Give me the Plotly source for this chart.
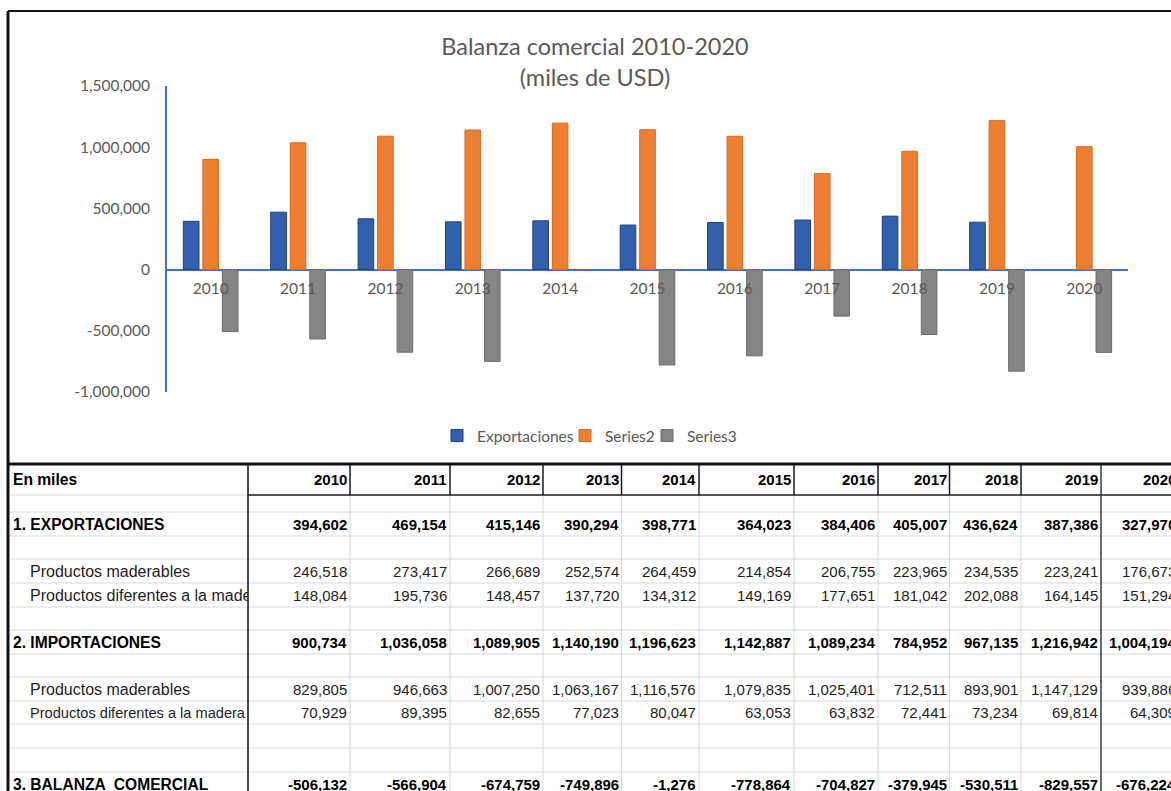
import plotly.graph_objects as go

W, H = 1171, 791

# ---------------- data ----------------
years = ["2010", "2011", "2012", "2013", "2014", "2015", "2016", "2017", "2018", "2019", "2020"]
exportaciones = [394602, 469154, 415146, 390294, 398771, 364023, 384406, 405007, 436624, 387386, 327970]
exp_maderables = [246518, 273417, 266689, 252574, 264459, 214854, 206755, 223965, 234535, 223241, 176673]
exp_otros = [148084, 195736, 148457, 137720, 134312, 149169, 177651, 181042, 202088, 164145, 151294]
importaciones = [900734, 1036058, 1089905, 1140190, 1196623, 1142887, 1089234, 784952, 967135, 1216942, 1004194]
imp_maderables = [829805, 946663, 1007250, 1063167, 1116576, 1079835, 1025401, 712511, 893901, 1147129, 939886]
imp_otros = [70929, 89395, 82655, 77023, 80047, 63053, 63832, 72441, 73234, 69814, 64309]
balanza = [-506132, -566904, -674759, -749896, -1276, -778864, -704827, -379945, -530511, -829557, -676224]
# in the chart the 2020 exports value is not plotted
exportaciones_chart = [394602, 469154, 415146, 390294, 398771, 364023, 384406, 405007, 436624, 387386, None]

series_names = ["Exportaciones", "Series2", "Series3"]
y_tickvals = [-1000000, -500000, 0, 500000, 1000000, 1500000]
y_ticktext = ["-1,000,000", "-500,000", "0", "500,000", "1,000,000", "1,500,000"]

title_lines = ["Balanza comercial 2010-2020", "(miles de USD)"]
table_corner = "En miles"
row_labels = ["1. EXPORTACIONES", "Productos maderables", "Productos diferentes a la madera",
              "2. IMPORTACIONES", "Productos maderables", "Productos diferentes a la madera",
              "3. BALANZA  COMERCIAL"]

# ---------------- helpers (pixel -> paper) ----------------
def px(x):
    return x / W

def py(y):
    return 1 - y / H

GREY_TXT = "#595959"
AXIS_BLUE = "#4472C4"
CHART_FONT = "Lato"
TABLE_FONT = "Liberation Sans"

# plot area in pixels
PL, PR, PT, PB = 167, 1128, 86, 392
ymin, ymax = -1000000, 1500000
zero_frac = py(PB) + (0 - ymin) / (ymax - ymin) * (py(PT) - py(PB))

bar_colors = ["#3260AC", "#EE7E32", "#858585"]
bar_edges = ["#1F3F7A", "#D46A22", "#6B6B6B"]
legend_ids = ["legend", "legend2", "legend3"]
legend_x_px = [437, 565, 647]

fig = go.Figure()
for name, vals, c, e, lg in zip(series_names, [exportaciones_chart, importaciones, balanza],
                                bar_colors, bar_edges, legend_ids):
    fig.add_trace(go.Bar(x=years, y=vals, name=name, legend=lg, showlegend=True,
                         marker=dict(color=c, line=dict(color=e, width=1))))

legend_style = dict(orientation="h", xanchor="left", y=py(436), yanchor="middle",
                    font=dict(family=CHART_FONT, size=15.5, color=GREY_TXT), itemwidth=30,
                    bgcolor="rgba(0,0,0,0)", visible=True)

fig.update_layout(
    width=W, height=H, autosize=False, showlegend=True,
    margin=dict(l=0, r=0, t=0, b=0, pad=0),
    paper_bgcolor="white", plot_bgcolor="white",
    barmode="group", bargap=0.33, bargroupgap=0.2,
    title=dict(text="<br>".join(title_lines), x=px(595), xanchor="center",
               y=py(55), yanchor="middle", yref="container", automargin=False,
               font=dict(family=CHART_FONT, size=23.5, color=GREY_TXT)),
    legend=dict(x=px(legend_x_px[0]), **legend_style),
    legend2=dict(x=px(legend_x_px[1]), **legend_style),
    legend3=dict(x=px(legend_x_px[2]), **legend_style),
    xaxis=dict(domain=[px(PL), px(PR)], type="category", anchor="free", position=zero_frac,
               showline=False, showgrid=False, zeroline=False, ticks="", automargin=False,
               tickfont=dict(family=CHART_FONT, size=15.5, color=GREY_TXT),
               ticklabelstandoff=8, fixedrange=True),
    yaxis=dict(domain=[py(PB), py(PT)], range=[ymin, ymax], tickvals=y_tickvals, ticktext=y_ticktext,
               showline=True, linecolor=AXIS_BLUE, linewidth=2, showgrid=False, automargin=False,
               zeroline=True, zerolinecolor=AXIS_BLUE, zerolinewidth=2, ticks="",
               tickfont=dict(family=CHART_FONT, size=15.5, color=GREY_TXT),
               ticklabelstandoff=12, fixedrange=True),
)

# ---------------- table (shapes + annotations) ----------------
row_edges = [464, 495, 512, 536, 559, 583, 607, 630, 654, 677, 701, 724, 748, 772, 796]
col_edges = [248, 350, 450, 543, 621.5, 699, 794, 878, 949.5, 1021, 1101, 1179]
LEFT = 8

shapes = []
def line(x0, y0, x1, y1, color, width):
    shapes.append(dict(type="line", xref="paper", yref="paper",
                       x0=px(x0), y0=py(y0), x1=px(x1), y1=py(y1),
                       line=dict(color=color, width=width)))

GRID = "#D9D9D9"
# horizontal gridlines
for ye in row_edges[2:-1]:
    line(LEFT, ye, W, ye, GRID, 1)
line(LEFT, row_edges[1], col_edges[0], row_edges[1], GRID, 1)
# vertical gridlines in body
for xe in col_edges[1:-2]:
    line(xe, row_edges[1], xe, H, GRID, 1)
# header borders
line(col_edges[0], row_edges[1], W, row_edges[1], "#1a1a1a", 1.5)
for xe in col_edges[1:-2]:
    line(xe, row_edges[0], xe, row_edges[1], "#1a1a1a", 1.5)
line(col_edges[0], row_edges[0], col_edges[0], H, "#111111", 1.5)
line(col_edges[-2], row_edges[0], col_edges[-2], H, "#3a3a3a", 1.5)
# outer borders
line(LEFT, 11, W, 11, "#111111", 2)
line(LEFT, 11, LEFT, H, "#111111", 3)
line(LEFT, row_edges[0], W, row_edges[0], "#111111", 3)

annotations = []
def text(x, yc, s, anchor="right", bold=False, size=15, color="#111111", width=None):
    a = dict(xref="paper", yref="paper", x=px(x), y=py(yc), xanchor=anchor, yanchor="middle",
             text=s, showarrow=False, borderpad=0,
             font=dict(family=TABLE_FONT, size=size, color=color, weight="bold" if bold else "normal"))
    if width is not None:
        a.update(width=width, align="left")
    annotations.append(a)

def row_center(i):
    return (row_edges[i] + row_edges[i + 1]) / 2

# header row
text(12, row_center(0), table_corner, anchor="left", bold=True, size=15.6, color="#000000")
for j, yr in enumerate(years):
    text(col_edges[j + 1] - 2, row_center(0), yr, bold=True, color="#000000")

table_rows = [
    (2, row_labels[0], exportaciones, True, 12),
    (4, row_labels[1], exp_maderables, False, 29),
    (5, row_labels[2], exp_otros, False, 29),
    (7, row_labels[3], importaciones, True, 12),
    (9, row_labels[4], imp_maderables, False, 29),
    (10, row_labels[5], imp_otros, False, 29),
    (13, row_labels[6], balanza, True, 12),
]
for idx, (ri, lab, vals, bold, xl) in enumerate(table_rows):
    yc = row_center(ri)
    col = "#000000" if bold else "#1e1e1e"
    if bold:
        text(xl, yc, lab, anchor="left", bold=True, size=15.6, color=col)
    elif idx == 2:
        text(xl, yc, lab, anchor="left", size=16, color=col, width=col_edges[0] - xl - 1)
    elif idx == 5:
        text(xl, yc, lab, anchor="left", size=14.6, color=col)
    else:
        text(xl, yc, lab, anchor="left", size=16, color=col)
    for j, v in enumerate(vals):
        text(col_edges[j + 1] - 2, yc, f"{v:,}", bold=bold, color=col)

fig.update_layout(shapes=shapes, annotations=annotations)
fig.write_html("out.html")
